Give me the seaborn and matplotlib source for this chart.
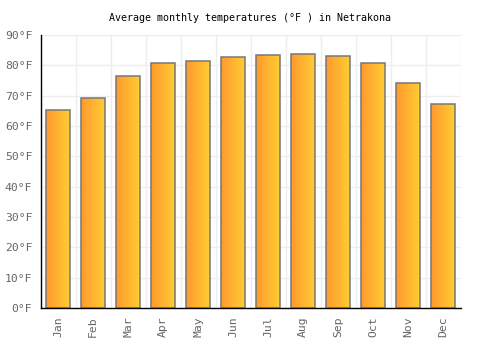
import numpy as np
import pandas as pd
import matplotlib
matplotlib.use("Agg")
import matplotlib.pyplot as plt
import seaborn as sns
from matplotlib.colors import LinearSegmentedColormap

months = ["Jan", "Feb", "Mar", "Apr", "May", "Jun", "Jul", "Aug", "Sep", "Oct", "Nov", "Dec"]
temps_f = [65.3, 69.2, 76.5, 80.8, 81.4, 82.8, 83.4, 83.8, 83.1, 80.8, 74.1, 67.3]
y_ticks = [0, 10, 20, 30, 40, 50, 60, 70, 80, 90]
y_tick_labels = [f"{t}°F" for t in y_ticks]
title = "Average monthly temperatures (°F ) in Netrakona"

sns.set_style("white")
plt.rcParams['font.family'] = ['DejaVu Sans Mono', 'DejaVu Sans']

df = pd.DataFrame({"month": months, "temp": temps_f})

fig = plt.figure(figsize=(5, 3.5), dpi=100)
ax = fig.add_axes([0.0814, 0.12, 0.84, 0.78])

sns.barplot(data=df, x="month", y="temp", ax=ax, width=0.67,
            color="#FFB030", edgecolor="#777777", linewidth=1.1, zorder=3)

cmap = LinearSegmentedColormap.from_list("g", ["#FF9A2E", "#FFCC33"])
grad = np.linspace(0, 1, 64).reshape(1, -1)
for p in ax.patches:
    x0, y0 = p.get_x(), p.get_y()
    w, h = p.get_width(), p.get_height()
    im = ax.imshow(grad, cmap=cmap, aspect="auto",
                   extent=[x0, x0 + w, y0, y0 + h], zorder=2.5,
                   interpolation="bilinear")
    im.set_clip_path(p)
    p.set_facecolor("none")

ax.set_xlim(-0.5, len(months) - 0.5)
ax.set_ylim(0, 90)
ax.set_yticks(y_ticks)
ax.set_yticklabels(y_tick_labels)
ax.set_xticks(np.arange(len(months)))
ax.set_xticklabels(months, rotation=90)
ax.set_xlabel("")
ax.set_ylabel("")

ax.set_xticks(np.arange(len(months) + 1) - 0.5, minor=True)
ax.grid(False)
ax.grid(True, which="minor", axis="x", color="#eeeeee", linewidth=1, zorder=0)
ax.grid(True, which="major", axis="y", color="#eeeeee", linewidth=1, zorder=0)
ax.set_axisbelow(True)

ax.tick_params(axis="both", which="both", length=0, labelsize=8.2,
               labelcolor="#666666", pad=6)

for side in ["top", "right"]:
    ax.spines[side].set_visible(False)
for side in ["left", "bottom"]:
    ax.spines[side].set_color("black")
    ax.spines[side].set_linewidth(1)
    ax.spines[side].set_zorder(4)

fig.text(0.5, 0.948, title, ha="center", va="center", fontsize=7.2, color="black")

fig.savefig("out.png", dpi=100)
